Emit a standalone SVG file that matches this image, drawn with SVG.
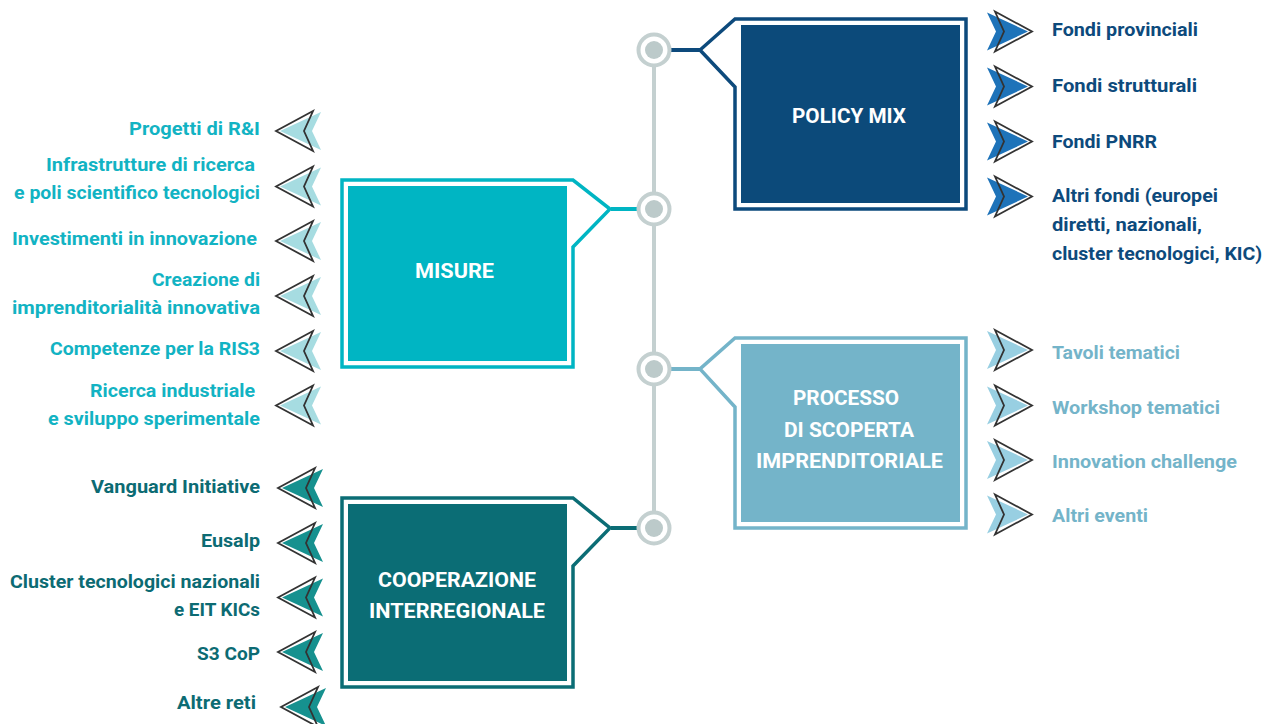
<svg xmlns="http://www.w3.org/2000/svg" xmlns:xlink="http://www.w3.org/1999/xlink" width="1271" height="724" viewBox="0 0 1271 724">
<style>
  text { font-family: Roboto, "Liberation Sans", sans-serif; font-weight: 700; }
  .item { font-size: 19px; }
  .lbl { font-size: 20px; fill: #ffffff; }
  .navy { fill: #0d4a7c; }
  .cyan { fill: #12b3c3; }
  .sky { fill: #74b4c9; }
  .teal { fill: #0c6b73; }
  .outl { fill: none; stroke: #333333; stroke-width: 1.8; stroke-linejoin: miter; }
  .frame { fill: none; stroke-width: 3.5; stroke-linejoin: miter; }
  .spine { stroke: #c4d0d0; stroke-width: 4; fill: none; }
  .ring { fill: #ffffff; stroke: #c4d0d0; stroke-width: 4; }
  .dot { fill: #bccaca; }
  .link { stroke-width: 4; fill: none; }
</style>
<defs>
  <path id="fillR" d="M-8,-19 L33,0 L-8,19 L1,0 Z"/>
  <path id="outR" d="M0,-20 L37,0 L0,20 L9,0 Z"/>
  <path id="fillL" d="M8,-19 L-33,0 L8,19 L-1,0 Z"/>
  <path id="outL" d="M0,-20 L-37,0 L0,20 L-9,0 Z"/>
</defs>
<rect width="1271" height="724" fill="#ffffff"/>

<g id="connectors">
  <line class="spine" x1="654" y1="50" x2="654" y2="528"/>
  <line class="link" stroke="#0d4a7c" x1="670" y1="50" x2="701" y2="50"/>
  <line class="link" stroke="#00b5c3" x1="611" y1="209" x2="638" y2="209"/>
  <line class="link" stroke="#74b4c9" x1="670" y1="369" x2="701" y2="369"/>
  <line class="link" stroke="#0b6d75" x1="611" y1="528" x2="638" y2="528"/>
  <g id="hubs">
    <circle class="ring" cx="654" cy="50" r="15.5"/><circle class="dot" cx="654" cy="50" r="9"/>
    <circle class="ring" cx="654" cy="209" r="15.5"/><circle class="dot" cx="654" cy="209" r="9"/>
    <circle class="ring" cx="654" cy="369" r="15.5"/><circle class="dot" cx="654" cy="369" r="9"/>
    <circle class="ring" cx="654" cy="528" r="15.5"/><circle class="dot" cx="654" cy="528" r="9"/>
  </g>
</g>

<g id="policy-mix">
  <path class="frame" stroke="#0d4a7c" d="M735,19 L966,19 L966,209 L735,209 L735,87 L700,50 Z"/>
  <rect x="741" y="25" width="219" height="178" fill="#0c4a7a"/>
  <text class="lbl" x="792" y="123" textLength="114" lengthAdjust="spacingAndGlyphs">POLICY MIX</text>
</g>

<g id="misure">
  <path class="frame" stroke="#00b5c3" d="M573,180 L342,180 L342,367 L573,367 L573,247 L610,209 Z"/>
  <rect x="348" y="186" width="219" height="175" fill="#00b5c3"/>
  <text class="lbl" x="415" y="278" textLength="79" lengthAdjust="spacingAndGlyphs">MISURE</text>
</g>

<g id="processo">
  <path class="frame" stroke="#74b4c9" d="M735,338 L966,338 L966,528 L735,528 L735,407 L700,369 Z"/>
  <rect x="741" y="344" width="219" height="178" fill="#74b4c9"/>
  <text class="lbl" x="793" y="405" textLength="106" lengthAdjust="spacingAndGlyphs">PROCESSO</text>
  <text class="lbl" x="784" y="437" textLength="130" lengthAdjust="spacingAndGlyphs">DI SCOPERTA</text>
  <text class="lbl" x="756" y="468" textLength="187" lengthAdjust="spacingAndGlyphs">IMPRENDITORIALE</text>
</g>

<g id="cooperazione">
  <path class="frame" stroke="#0b6d75" d="M573,498 L342,498 L342,687 L573,687 L573,566 L610,528 Z"/>
  <rect x="348" y="504" width="219" height="177" fill="#0b6d75"/>
  <text class="lbl" x="378" y="587" textLength="158" lengthAdjust="spacingAndGlyphs">COOPERAZIONE</text>
  <text class="lbl" x="369" y="618" textLength="176" lengthAdjust="spacingAndGlyphs">INTERREGIONALE</text>
</g>

<!-- Policy mix items -->
<g id="fondi-provinciali">
  <use xlink:href="#fillR" x="995" y="31.5" fill="#1e73b9"/><use xlink:href="#outR" class="outl" x="995" y="31.5"/>
  <text class="item navy" x="1052" y="36" textLength="146" lengthAdjust="spacingAndGlyphs">Fondi provinciali</text>
</g>
<g id="fondi-strutturali">
  <use xlink:href="#fillR" x="995" y="86.5" fill="#1e73b9"/><use xlink:href="#outR" class="outl" x="995" y="86.5"/>
  <text class="item navy" x="1052" y="92" textLength="145" lengthAdjust="spacingAndGlyphs">Fondi strutturali</text>
</g>
<g id="fondi-pnrr">
  <use xlink:href="#fillR" x="995" y="141.5" fill="#1e73b9"/><use xlink:href="#outR" class="outl" x="995" y="141.5"/>
  <text class="item navy" x="1052" y="148" textLength="105" lengthAdjust="spacingAndGlyphs">Fondi PNRR</text>
</g>
<g id="altri-fondi">
  <use xlink:href="#fillR" x="995" y="196.5" fill="#1e73b9"/><use xlink:href="#outR" class="outl" x="995" y="196.5"/>
  <text class="item navy" x="1052" y="202" textLength="166" lengthAdjust="spacingAndGlyphs">Altri fondi (europei</text>
  <text class="item navy" x="1052" y="231" textLength="150" lengthAdjust="spacingAndGlyphs">diretti, nazionali,</text>
  <text class="item navy" x="1052" y="260" textLength="210" lengthAdjust="spacingAndGlyphs">cluster tecnologici, KIC)</text>
</g>

<!-- Processo items -->
<g id="tavoli-tematici">
  <use xlink:href="#fillR" x="995" y="350" fill="#98cfe2"/><use xlink:href="#outR" class="outl" x="995" y="350"/>
  <text class="item sky" x="1052" y="359" textLength="128" lengthAdjust="spacingAndGlyphs">Tavoli tematici</text>
</g>
<g id="workshop-tematici">
  <use xlink:href="#fillR" x="995" y="405.5" fill="#98cfe2"/><use xlink:href="#outR" class="outl" x="995" y="405.5"/>
  <text class="item sky" x="1052" y="414" textLength="168" lengthAdjust="spacingAndGlyphs">Workshop tematici</text>
</g>
<g id="innovation-challenge">
  <use xlink:href="#fillR" x="995" y="460" fill="#98cfe2"/><use xlink:href="#outR" class="outl" x="995" y="460"/>
  <text class="item sky" x="1052" y="468" textLength="185" lengthAdjust="spacingAndGlyphs">Innovation challenge</text>
</g>
<g id="altri-eventi">
  <use xlink:href="#fillR" x="995" y="514.5" fill="#98cfe2"/><use xlink:href="#outR" class="outl" x="995" y="514.5"/>
  <text class="item sky" x="1052" y="522" textLength="96" lengthAdjust="spacingAndGlyphs">Altri eventi</text>
</g>

<!-- Misure items -->
<g id="progetti-ri">
  <use xlink:href="#fillL" x="313" y="131" fill="#a6dce1"/><use xlink:href="#outL" class="outl" x="313" y="131"/>
  <text class="item cyan" x="129" y="135" textLength="131" lengthAdjust="spacingAndGlyphs">Progetti di R&amp;I</text>
</g>
<g id="infrastrutture">
  <use xlink:href="#fillL" x="313" y="186.5" fill="#a6dce1"/><use xlink:href="#outL" class="outl" x="313" y="186.5"/>
  <text class="item cyan" x="46" y="171" textLength="209" lengthAdjust="spacingAndGlyphs">Infrastrutture di ricerca</text>
  <text class="item cyan" x="14" y="199" textLength="246" lengthAdjust="spacingAndGlyphs">e poli scientifico tecnologici</text>
</g>
<g id="investimenti">
  <use xlink:href="#fillL" x="313" y="241" fill="#a6dce1"/><use xlink:href="#outL" class="outl" x="313" y="241"/>
  <text class="item cyan" x="12" y="245" textLength="245" lengthAdjust="spacingAndGlyphs">Investimenti in innovazione</text>
</g>
<g id="imprenditorialita">
  <use xlink:href="#fillL" x="313" y="296" fill="#a6dce1"/><use xlink:href="#outL" class="outl" x="313" y="296"/>
  <text class="item cyan" x="152" y="286" textLength="108" lengthAdjust="spacingAndGlyphs">Creazione di</text>
  <text class="item cyan" x="12" y="314" textLength="248" lengthAdjust="spacingAndGlyphs">imprenditorialità innovativa</text>
</g>
<g id="competenze">
  <use xlink:href="#fillL" x="313" y="351" fill="#a6dce1"/><use xlink:href="#outL" class="outl" x="313" y="351"/>
  <text class="item cyan" x="50" y="355" textLength="210" lengthAdjust="spacingAndGlyphs">Competenze per la RIS3</text>
</g>
<g id="ricerca-industriale">
  <use xlink:href="#fillL" x="313" y="405.5" fill="#a6dce1"/><use xlink:href="#outL" class="outl" x="313" y="405.5"/>
  <text class="item cyan" x="90" y="397" textLength="165" lengthAdjust="spacingAndGlyphs">Ricerca industriale</text>
  <text class="item cyan" x="48" y="425" textLength="212" lengthAdjust="spacingAndGlyphs">e sviluppo sperimentale</text>
</g>

<!-- Cooperazione items -->
<g id="vanguard">
  <use xlink:href="#fillL" x="315" y="488" fill="#16918f"/><use xlink:href="#outL" class="outl" x="315" y="488"/>
  <text class="item teal" x="91" y="493" textLength="169" lengthAdjust="spacingAndGlyphs">Vanguard Initiative</text>
</g>
<g id="eusalp">
  <use xlink:href="#fillL" x="315" y="543" fill="#16918f"/><use xlink:href="#outL" class="outl" x="315" y="543"/>
  <text class="item teal" x="201" y="547" textLength="59" lengthAdjust="spacingAndGlyphs">Eusalp</text>
</g>
<g id="cluster">
  <use xlink:href="#fillL" x="315" y="597.5" fill="#16918f"/><use xlink:href="#outL" class="outl" x="315" y="597.5"/>
  <text class="item teal" x="10" y="588" textLength="250" lengthAdjust="spacingAndGlyphs">Cluster tecnologici nazionali</text>
  <text class="item teal" x="174" y="616" textLength="86" lengthAdjust="spacingAndGlyphs">e EIT KICs</text>
</g>
<g id="s3cop">
  <use xlink:href="#fillL" x="315" y="652" fill="#16918f"/><use xlink:href="#outL" class="outl" x="315" y="652"/>
  <text class="item teal" x="197" y="660" textLength="63" lengthAdjust="spacingAndGlyphs">S3 CoP</text>
</g>
<g id="altre-reti">
  <use xlink:href="#fillL" x="318" y="707" fill="#16918f"/><use xlink:href="#outL" class="outl" x="318" y="707"/>
  <text class="item teal" x="177" y="709" textLength="79" lengthAdjust="spacingAndGlyphs">Altre reti</text>
</g>
</svg>
